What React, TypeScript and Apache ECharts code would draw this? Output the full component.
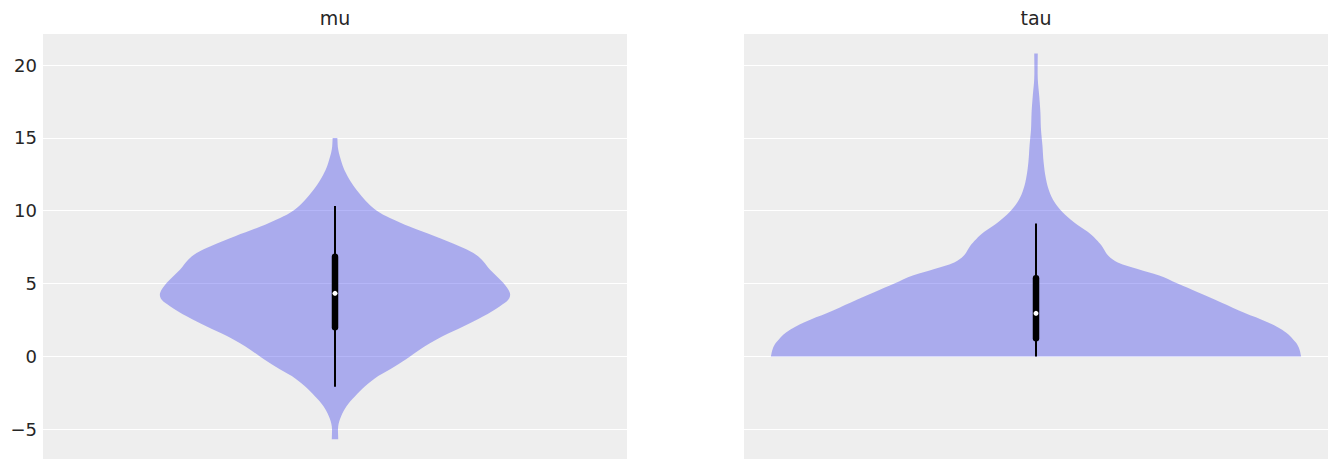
import { useEffect, useRef } from "react";
import * as echarts from "echarts";

// violin outlines: y value and half-width (percent of half the panel)
const muY = [15.0, 14.2, 13.3, 12.6, 11.9, 11.2, 10.5, 10.0, 9.5, 8.9, 8.25, 7.55, 7.1, 6.65, 5.95, 5.05, 4.35, 3.9, 3.45, 2.75, 2.05, 1.4, 0.7, 0.0, -0.7, -1.35, -2.05, -2.75, -3.4, -4.1, -4.8, -5.69];
const muWidth = [0.8, 1.1, 2.3, 3.7, 5.7, 8.3, 11.4, 14.3, 18.8, 25.7, 34.2, 42.8, 47.4, 50.2, 53.1, 57.6, 59.9, 59.4, 56.5, 50.8, 43.9, 37.0, 30.8, 25.7, 20.3, 14.8, 10.3, 6.8, 4.0, 2.1, 1.1, 1.1];

const tauY = [20.8, 19.1, 17.9, 16.8, 15.6, 14.5, 13.35, 12.2, 11.3, 10.6, 9.9, 9.2, 8.55, 8.05, 7.6, 6.95, 6.45, 6.0, 5.55, 5.0, 4.4, 3.7, 3.0, 2.35, 1.65, 0.95, 0.5, 0.0];
const tauWidth = [0.6, 0.6, 1.1, 1.5, 1.7, 2.2, 2.6, 3.4, 4.6, 6.3, 9.1, 13.1, 17.7, 20.5, 22.5, 24.6, 28.0, 34.8, 42.2, 48.5, 55.4, 63.4, 71.3, 79.3, 85.6, 89.0, 90.2, 90.8];

// box summaries: [low, high] for whisker and box, then median
const muWhisker = [-2.08, 10.32];
const muBox = [2.0, 6.84];
const muMedian = 4.33;
const tauWhisker = [0.0, 9.13];
const tauBox = [1.24, 5.36];
const tauMedian = 2.96;

const titles = ["mu", "tau"];
const yMin = -7.04;
const yMax = 22.13;

const FONT = "DejaVu Sans";
const FILL = "rgba(42, 46, 236, 0.35)";

function violinSeries(ys: number[], ws: number[], idx: number) {
  return {
    type: "custom",
    xAxisIndex: idx,
    yAxisIndex: idx,
    clip: false,
    silent: true,
    z: 1,
    data: [0],
    renderItem: (_params: any, api: any) => {
      const left = ys.map((y, i) => api.coord([-ws[i], y]));
      const right = ys.map((y, i) => api.coord([ws[i], y])).reverse();
      // doubled end points keep the cut ends flat and sharp under smoothing
      const l0 = left[0];
      const l1 = left[left.length - 1];
      const r0 = right[0];
      const r1 = right[right.length - 1];
      const pts = [l0, ...left, l1, r0, ...right, r1];
      return {
        type: "polygon",
        shape: { points: pts, smooth: 0.35 },
        style: { fill: FILL, stroke: "none" },
      };
    },
  };
}

function boxSeries(whisker: number[], box: number[], median: number, idx: number) {
  return [
    {
      type: "line",
      xAxisIndex: idx,
      yAxisIndex: idx,
      symbol: "none",
      silent: true,
      z: 3,
      data: whisker.map((v) => [0, v]),
      lineStyle: { color: "#000", width: 2 },
    },
    {
      type: "line",
      xAxisIndex: idx,
      yAxisIndex: idx,
      symbol: "none",
      silent: true,
      z: 4,
      data: box.map((v) => [0, v]),
      lineStyle: { color: "#000", width: 6.5, cap: "round" },
    },
    {
      type: "scatter",
      xAxisIndex: idx,
      yAxisIndex: idx,
      silent: true,
      z: 6,
      symbol: "circle",
      symbolSize: 5,
      data: [[0, median]],
      itemStyle: { color: "#ffffff", opacity: 1 },
    },
  ];
}

export default function App() {
  const chartRef = useRef<HTMLDivElement>(null);

  useEffect(() => {
    document.body.style.margin = "0";
    if (!chartRef.current) return;
    const chart = echarts.init(chartRef.current, null, { renderer: "svg" });

    const grids = [
      { left: 43, top: 34, width: 584, height: 425 },
      { left: 744, top: 34, width: 584, height: 425 },
    ];

    chart.setOption({
      animation: false,
      textStyle: { fontFamily: FONT },
      title: titles.map((t, i) => ({
        text: t,
        left: grids[i].left + grids[i].width / 2,
        textAlign: "center",
        top: 8,
        padding: 0,
        textStyle: { fontFamily: FONT, fontSize: 19, fontWeight: "normal", color: "#262626" },
      })),
      grid: grids.map((g) => ({
        ...g,
        show: true,
        backgroundColor: "#eeeeee",
        borderWidth: 0,
      })),
      xAxis: grids.map((_g, i) => ({
        type: "value",
        gridIndex: i,
        min: -100,
        max: 100,
        show: false,
      })),
      yAxis: grids.map((_g, i) => ({
        type: "value",
        gridIndex: i,
        min: yMin,
        max: yMax,
        splitNumber: 6,
        axisLine: { show: false },
        axisTick: { show: false },
        axisLabel: {
          show: i === 0,
          margin: 6,
          fontSize: 18,
          fontFamily: FONT,
          color: "#262626",
          formatter: (v: number) =>
            Math.abs(v % 5) < 1e-6 ? (v < 0 ? "\u2212" + Math.abs(v) : String(v)) : "",
        },
        splitLine: {
          show: true,
          showMinLine: false,
          showMaxLine: false,
          lineStyle: { color: "#ffffff", width: 1 },
        },
      })),
      series: [
        violinSeries(muY, muWidth, 0),
        violinSeries(tauY, tauWidth, 1),
        ...boxSeries(muWhisker, muBox, muMedian, 0),
        ...boxSeries(tauWhisker, tauBox, tauMedian, 1),
      ],
    });

    return () => chart.dispose();
  }, []);

  return <div ref={chartRef} style={{ width: 1336, height: 469 }} />;
}
